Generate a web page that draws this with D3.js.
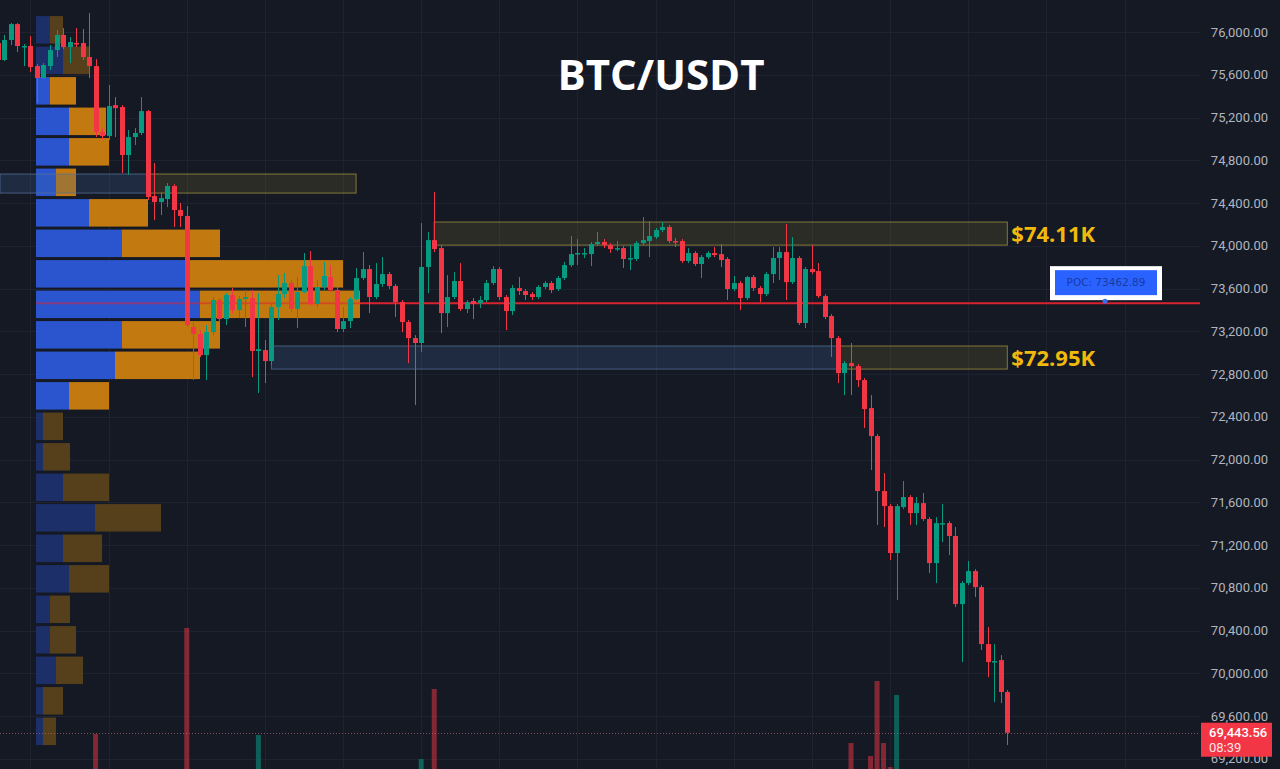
<!DOCTYPE html>
<html><head><meta charset="utf-8">
<script src="https://cdn.jsdelivr.net/npm/d3@7"></script>
<style>html,body{margin:0;padding:0;background:#151924;overflow:hidden}</style>
</head><body><svg id="c" width="1280" height="769"></svg>
<script>
// ---------- DATA ----------
const title = "BTC/USDT";
const opens = [75897,75738,75925,76074,75859,75869,75681,75569,75681,75831,75972,75859,75897,75897,75766,75681,75064,75026,75316,75298,74849,75017,75055,75260,74465,74409,74437,74559,74334,74278,73239,73174,72977,73192,73492,73314,73539,73398,73501,73511,73015,73024,72921,73426,73548,73651,73408,73567,73810,73455,73614,73707,73585,73221,73295,73501,73698,73782,73520,73642,73735,73623,73473,73286,73136,73090,73801,74053,73978,73370,73520,73670,73408,73483,73464,73492,73651,73782,73520,73389,73604,73576,73548,73520,73614,73651,73595,73698,73819,73922,73922,73922,74016,74035,74006,73969,73978,73876,73876,74025,74044,74081,74147,74175,74044,74044,73857,73932,73829,73894,73932,73922,73876,73595,73651,73511,73707,73604,73548,73735,73885,73941,73660,73885,73277,73782,73763,73529,73342,73136,72809,72902,72874,72743,72481,72219,71705,71564,71125,71555,71649,71499,71592,71443,71031,71396,71405,71284,70647,70844,70956,70806,70273,70105,70123,69824];
const highs = [75925,75972,76084,76084,75887,75962,75700,75709,75878,76018,76037,75953,76037,76028,76177,75747,75101,75504,75391,75316,75083,75101,75391,75270,74774,74502,74587,74577,74400,74372,73286,73211,73258,73520,73511,73557,73604,73529,73585,73585,73557,73118,73464,73726,73744,73679,73707,73932,73950,73679,73848,73819,73614,73426,73520,73791,73941,73819,73838,73894,73754,73642,73492,73305,73164,74212,74128,74502,74006,73726,73754,73838,73492,73511,73529,73679,73810,73801,73539,73632,73707,73595,73567,73632,73670,73670,73717,73848,74091,74063,73978,74035,74128,74063,74025,74044,73997,74006,74044,74269,74231,74166,74222,74194,74072,74063,73978,73950,73913,73950,73988,74016,73894,73717,73670,73717,73726,73623,73754,73988,73988,74203,74081,73904,73801,74006,73838,73548,73361,73155,72921,73090,72893,72762,72603,72238,71873,71583,71583,71798,71667,71649,71686,71461,71461,71583,71424,71368,70863,71050,70975,70825,70432,70273,70170,69843];
const lows = [75719,75728,75878,75812,75681,75625,75335,75560,75644,75766,75840,75709,75859,75738,75569,75017,74989,74989,75017,74680,74662,74942,75036,74428,74240,74287,74362,74175,74175,73239,72743,72959,72743,73164,73286,73258,73370,73323,73239,72771,72622,72715,72884,73305,73511,73380,73230,73557,73436,73426,73585,73567,73192,73192,73230,73492,73679,73370,73501,73614,73595,73333,73192,72902,72509,73005,73557,73941,73183,73239,73501,73389,73370,73314,73417,73473,73632,73492,73211,73352,73539,73492,73492,73501,73595,73557,73576,73679,73801,73819,73885,73810,73997,73978,73932,73950,73791,73773,73857,74006,73894,74063,74128,74025,73988,73838,73838,73810,73698,73876,73894,73801,73492,73576,73398,73492,73576,73473,73529,73651,73679,73492,73642,73258,73230,73735,73511,73314,72959,72715,72603,72603,72678,72294,71901,71387,71368,71059,70685,71536,71387,71387,71424,70937,70844,71228,71106,70619,70105,70825,70713,70217,69964,69730,69721,69328];
const closes = [75738,75925,76074,75869,75869,75672,75569,75691,75831,75972,75859,75906,75887,75766,75681,75064,75026,75307,75288,74849,75017,75055,75260,74456,74409,74446,74559,74334,74278,73258,73174,72977,73192,73492,73314,73539,73398,73501,73520,73015,73033,72921,73426,73548,73651,73408,73567,73810,73455,73614,73717,73585,73221,73295,73501,73698,73782,73520,73642,73735,73623,73473,73286,73136,73090,73801,74053,73969,73370,73520,73670,73408,73473,73455,73492,73651,73782,73520,73389,73604,73576,73539,73520,73614,73651,73585,73698,73819,73922,73932,73932,74016,74035,74006,73969,73978,73876,73885,74025,74053,74091,74147,74175,74044,74035,73857,73932,73829,73894,73932,73913,73866,73595,73651,73511,73707,73604,73548,73735,73885,73941,73660,73885,73277,73782,73754,73529,73333,73136,72809,72902,72874,72743,72472,72219,71705,71564,71125,71564,71649,71499,71592,71443,71031,71405,71405,71284,70647,70844,70956,70806,70273,70105,70114,69824,69443.56];
// volume bars visible above the bottom edge (candle index, volume)
const volIndex = [15,29,40,65,67,131,134,135,136,137,138];
const volValue = [410,1470,400,160,860,320,190,940,320,80,800];
// volume profile rows, top to bottom (buy / sell)
const profileBuy  = [14,27,14,33,33,20,53,86,149,164,86,79,33,7,7,27,59,27,33,14,14,20,7,7];
const profileSell = [13,26,26,37,40,20,59,98,158,160,98,85,40,20,27,46,66,39,40,20,26,27,20,13];
const valueAreaRows = [2,12];
const pocPrice = 73462.89;
const lastTime = "08:39";
// zones
const zoneStart = [0,23,67,42,129];
const zoneEnd   = [23,55,155,129,155];
const zoneHigh  = [74671,74671,74222,73062,73062];
const zoneLow   = [74493,74493,74006,72846,72846];
const zoneKind  = ["demand","supply","supply","demand","supply"];
const zoneLabeled = [false,false,true,false,true];
const priceTicks = [76000,75600,75200,74800,74400,74000,73600,73200,72800,72400,72000,71600,71200,70800,70400,70000,69600,69200];

// ---------- DRAW ----------
const W=1280,H=769, plotRight=1200;
const svg=d3.select("#c");
const N=opens.length;
const x=d3.scaleLinear().domain([0,N-1]).range([-2.1,1007.3]);
const y=d3.scaleLinear().domain([69600,76000]).range([716,32]);
const step=x(1)-x(0);
const bodyW=5;
const UP="#089981", DN="#f23645";

svg.append("rect").attr("width",W).attr("height",H).attr("fill","#151924");

// grid
const g=svg.append("g");
g.selectAll(".hg").data(priceTicks).join("line")
  .attr("x1",0).attr("x2",plotRight)
  .attr("y1",d=>Math.round(y(d))+0.5).attr("y2",d=>Math.round(y(d))+0.5)
  .attr("stroke","#1f2331").attr("stroke-width",1);
const vIdx=d3.range(5,400,12).filter(i=>x(i)<plotRight);
g.selectAll(".vg").data(vIdx).join("line")
  .attr("x1",d=>Math.round(x(d))+0.5).attr("x2",d=>Math.round(x(d))+0.5)
  .attr("y1",0).attr("y2",H).attr("stroke","#1f2331");

// volume bars
const vy=d3.scaleLinear().domain([0,d3.max(volValue)]).range([775,628]);
svg.append("g").selectAll("rect").data(volIndex).join("rect")
  .attr("x",(d)=>x(d)-bodyW/2)
  .attr("width",bodyW)
  .attr("y",(d,i)=>vy(volValue[i]))
  .attr("height",(d,i)=>775-vy(volValue[i]))
  .attr("fill",d=>closes[d]>=opens[d]?"rgba(8,153,129,0.55)":"rgba(242,54,69,0.5)");

// volume profile
const pMax=d3.max(highs), pMin=d3.min(lows), rows=profileBuy.length;
const rowStep=(pMax-pMin)/rows;
const totals=profileBuy.map((b,i)=>b+profileSell[i]);
const px=d3.scaleLinear().domain([0,d3.max(totals)]).range([36,360]);
const prof=svg.append("g");
profileBuy.forEach((b,k)=>{
  const top=y(pMax-k*rowStep)+3, bot=y(pMax-(k+1)*rowStep);
  const inVA=k>=valueAreaRows[0]&&k<=valueAreaRows[1];
  prof.append("rect").attr("x",px(0)).attr("y",top).attr("width",px(b)-px(0)).attr("height",bot-top)
    .attr("fill",inVA?"#2a55cf":"#1c2f68");
  prof.append("rect").attr("x",px(b)).attr("y",top).attr("width",px(totals[k])-px(b)).attr("height",bot-top)
    .attr("fill",inVA?"#c27a10":"#56401c");
});

// zones
const zg=svg.append("g");
zoneStart.forEach((s,i)=>{
  const sup=zoneKind[i]==="supply";
  const x0=Math.max(0,x(s)), x1=x(zoneEnd[i]);
  zg.append("rect").attr("x",x0).attr("y",y(zoneHigh[i])).attr("width",x1-x0)
    .attr("height",y(zoneLow[i])-y(zoneHigh[i]))
    .attr("fill",sup?"rgba(120,115,40,0.22)":"rgba(60,100,150,0.25)")
    .attr("stroke",sup?"rgba(165,150,65,0.75)":"rgba(85,115,155,0.75)").attr("stroke-width",1);
});

// POC line
const pocY=y(pocPrice);
svg.append("line").attr("x1",px(0)).attr("x2",px(d3.max(totals))).attr("y1",pocY).attr("y2",pocY)
  .attr("stroke","#e0202e").attr("stroke-width",2).attr("stroke-opacity",0.5);
svg.append("line").attr("x1",px(d3.max(totals))).attr("x2",plotRight).attr("y1",pocY).attr("y2",pocY)
  .attr("stroke","#d9232e").attr("stroke-width",2);

// candles
const cg=svg.append("g");
d3.range(N).forEach(i=>{
  const o=opens[i],c=closes[i],h=highs[i],l=lows[i];
  const col=c>=o?UP:DN;
  const xc=x(i);
  cg.append("line").attr("x1",Math.round(xc)+0.5).attr("x2",Math.round(xc)+0.5)
    .attr("y1",y(h)).attr("y2",y(l)).attr("stroke",col).attr("stroke-width",1);
  const yt=y(Math.max(o,c)), yb=y(Math.min(o,c));
  cg.append("rect").attr("x",Math.round(xc)+0.5-bodyW/2).attr("width",bodyW)
    .attr("y",yt).attr("height",Math.max(1.5,yb-yt)).attr("fill",col);
});

// zone labels
const fmtK=v=>"$"+(v/1000).toFixed(2)+"K";
zoneStart.forEach((s,i)=>{
  if(!zoneLabeled[i]) return;
  const mid=(zoneHigh[i]+zoneLow[i])/2;
  svg.append("text").attr("x",x(zoneEnd[i])+4).attr("y",y(mid)+8.5)
    .attr("font-family","'Open Sans',sans-serif").attr("font-weight",700).attr("font-size",22)
    .attr("fill","#f0b90b").text(fmtK(mid));
});

// last price dotted line
const last=closes[N-1], lastY=y(last);
svg.append("line").attr("x1",0).attr("x2",plotRight).attr("y1",Math.round(lastY)+0.5).attr("y2",Math.round(lastY)+0.5)
  .attr("stroke","rgba(200,110,120,0.6)").attr("stroke-dasharray","1,2");

// axis labels
const fmt=d3.format(",.2f");
svg.append("g").selectAll("text").data(priceTicks).join("text")
  .attr("x",1268).attr("y",d=>y(d)).attr("dy","0.35em").attr("text-anchor","end")
  .attr("font-family","Roboto,sans-serif").attr("font-size",13).attr("fill","#b2b5be").text(d=>fmt(d));

// POC label
const cx=1106;
svg.append("rect").attr("x",cx-56).attr("y",pocY-37).attr("width",112).attr("height",34).attr("fill","#ffffff");
svg.append("rect").attr("x",cx-51).attr("y",pocY-33).attr("width",102).attr("height",25).attr("fill","#2962ff");
svg.append("text").attr("x",cx).attr("y",pocY-20.5).attr("dy","0.35em").attr("text-anchor","middle")
  .attr("font-family","'DejaVu Sans',sans-serif").attr("font-size",10.5).attr("fill","#1b3a9e")
  .text("POC: "+pocPrice.toFixed(2));
svg.append("circle").attr("cx",cx-1).attr("cy",pocY-2).attr("r",2.5).attr("fill","#3a6cf0");

// last price box
svg.append("rect").attr("x",1201).attr("y",lastY-10).attr("width",71).attr("height",34).attr("fill",DN);
svg.append("text").attr("x",1209).attr("y",lastY).attr("dy","0.35em")
  .attr("font-family","Roboto,sans-serif").attr("font-size",13).attr("font-weight",500).attr("fill","#ffffff").text(fmt(last));
svg.append("text").attr("x",1209).attr("y",lastY+15).attr("dy","0.35em")
  .attr("font-family","Roboto,sans-serif").attr("font-size",13).attr("fill","#fde4e6").text(lastTime);

// title
svg.append("text").attr("x",661).attr("y",90).attr("text-anchor","middle")
  .attr("font-family","'Open Sans',sans-serif").attr("font-weight",700).attr("font-size",42)
  .attr("fill","#ffffff").text(title);
</script>
</body></html>
